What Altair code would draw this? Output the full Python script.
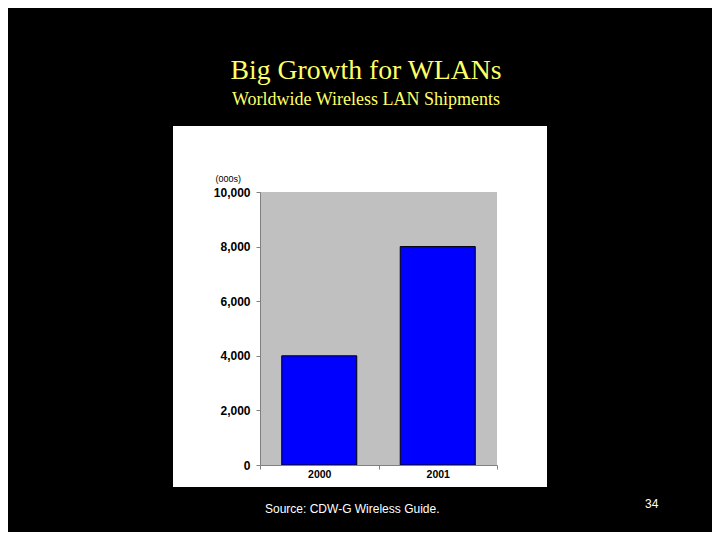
import altair as alt
import pandas as pd

# ---- data ----
years = ["2000", "2001"]
shipments = [4000, 8000]          # thousands of units
y_ticks = [0, 2000, 4000, 6000, 8000, 10000]

title_text = "Big Growth for WLANs"
subtitle_text = "Worldwide Wireless LAN Shipments"
source_text = "Source: CDW-G Wireless Guide."
page_text = "34"
unit_text = "(000s)"

df = pd.DataFrame({"year": years, "shipments": shipments})

W, H = 237, 273
one = pd.DataFrame({"k": [0]})

# white panel behind the chart
panel = alt.Chart(one).mark_rect(color="#FFFFFF").encode(
    x=alt.value(-87), x2=alt.value(287), y=alt.value(-66), y2=alt.value(295)
)
# gray plot area
plotbg = alt.Chart(one).mark_rect(color="#C0C0C0").encode(
    x=alt.value(0), x2=alt.value(W), y=alt.value(0), y2=alt.value(H)
)

bars = alt.Chart(df).mark_bar(
    color="#0000FF", stroke="#000000", strokeWidth=1, width=alt.RelativeBandSize(0.633)
).encode(
    x=alt.X(
        "year:N",
        sort=years,
        scale=alt.Scale(paddingInner=0, paddingOuter=0),
        axis=alt.Axis(
            title=None, labelAngle=0, labelFont="Liberation Sans", labelFontWeight="bold",
            labelFontSize=10.5, labelColor="#000000", labelPadding=0, tickSize=4,
            tickBand="extent", domainColor="#808080", tickColor="#808080", zindex=1,
        ),
    ),
    y=alt.Y(
        "shipments:Q",
        scale=alt.Scale(domain=[0, 10000], nice=False),
        axis=alt.Axis(
            values=y_ticks, format=",.0f", grid=False, labelFont="Liberation Sans",
            labelFontWeight="bold", labelFontSize=12, labelColor="#000000",
            tickSize=4, labelPadding=6, domainColor="#808080", tickColor="#808080",
            title=unit_text, titleAngle=0, titleX=-45, titleY=-11, titleAlign="left",
            titleBaseline="alphabetic", titleFont="Liberation Sans", titleFontSize=9,
            titleFontWeight="normal", titleColor="#000000", zindex=1,
        ),
    ),
)

def label(text, x, y, size, font, color, align="center"):
    return alt.Chart(one).mark_text(
        text=text, font=font, fontSize=size, color=color, align=align, baseline="alphabetic"
    ).encode(x=alt.value(x), y=alt.value(y))

title = label(title_text, 106, -113, 27.7, "Liberation Serif", "#FFFF66")
subtitle = label(subtitle_text, 106, -87, 18, "Liberation Serif", "#FFFF66")
source = label(source_text, 5, 321, 12, "Liberation Sans", "#FFFFFF", align="left")
page = label(page_text, 385, 316, 12, "Liberation Sans", "#FFFFFF", align="left")

chart = alt.layer(panel, plotbg, bars, title, subtitle, source, page).properties(
    width=W,
    height=H,
    autosize=alt.AutoSizeParams(type="none"),
    padding={"left": 252, "top": 184, "right": 215, "bottom": 67},
    background="#000000",
).configure_view(stroke=None)

chart.save("out.html", embed_options={"renderer": "svg", "actions": False})
